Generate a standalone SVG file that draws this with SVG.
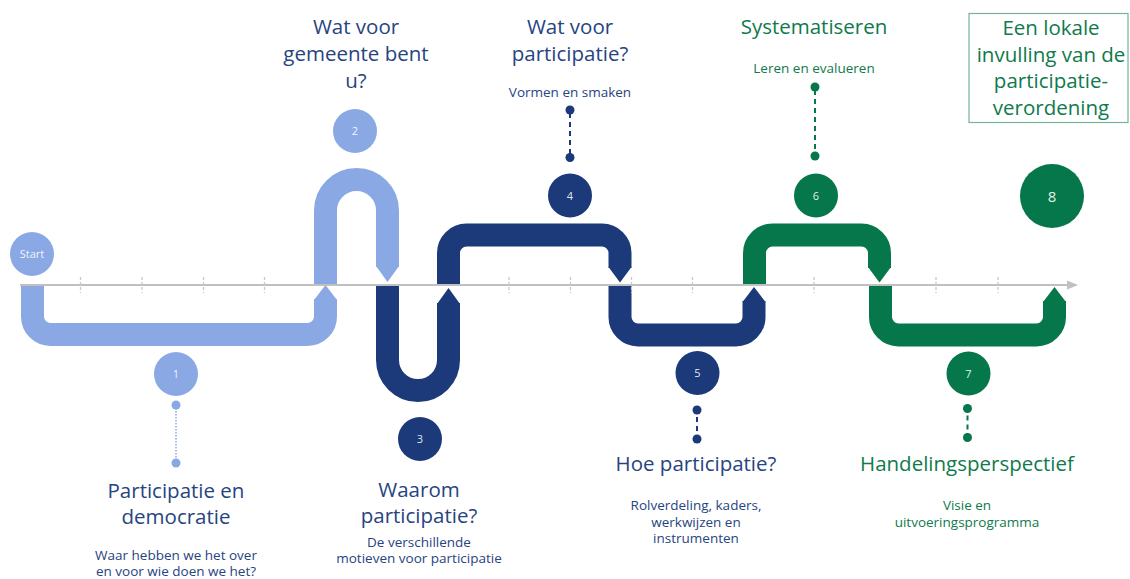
<svg xmlns="http://www.w3.org/2000/svg" width="1130" height="579" viewBox="0 0 1130 579">
<style>
.band{fill:none;stroke-width:23;stroke-linecap:butt;stroke-linejoin:round}
.lb{stroke:#8aa8e4}.db{stroke:#1c3979}.gr{stroke:#05774a}
.flb{fill:#8aa8e4}.fdb{fill:#1c3979}.fgr{fill:#05774a}
.tick{stroke:#c8c8c8;stroke-width:1.3;stroke-dasharray:3 2}
.h{font-family:"Open Sans","Noto Sans",sans-serif;font-size:20.5px;text-anchor:middle}
.s{font-family:"Open Sans","Noto Sans",sans-serif;font-size:13.5px;text-anchor:middle}
.tb{fill:#27447f}.tg{fill:#0f7a4b}
.num{font-family:"Open Sans","Noto Sans",sans-serif;font-size:11px;fill:#ffffff;fill-opacity:0.9;text-anchor:middle}
.dash{stroke-width:2;stroke-dasharray:5 4;fill:none}
</style>

<g id="connectors">
  <!-- segment 1 -->
  <path class="band lb" d="M32.5,285 V316.5 A18,18 0 0 0 50.5,334.5 H307.5 A18,18 0 0 0 325.5,316.5 V299"/>
  <polygon class="flb" points="314,300 325.5,285 337,300"/>
  <!-- segment 2 -->
  <path class="band lb" d="M325.5,285 V210.5 A31,31 0 0 1 387.5,210.5 V267"/>
  <polygon class="flb" points="376,266 387.5,282 399,266"/>
  <!-- segment 3 -->
  <path class="band db" d="M387.5,285 V360 A30.5,30.5 0 0 0 448.5,360 V303"/>
  <polygon class="fdb" points="437,304 448.5,288 460,304"/>
  <!-- segment 4 -->
  <path class="band db" d="M448.5,285 V253 A18,18 0 0 1 466.5,235 H602 A18,18 0 0 1 620,253 V268"/>
  <polygon class="fdb" points="608.5,267 620,282.5 631.5,267"/>
  <!-- segment 5 -->
  <path class="band db" d="M620,285 V317 A18,18 0 0 0 638,335 H736 A18,18 0 0 0 754,317 V301"/>
  <polygon class="fdb" points="742.5,302 754,287 765.5,302"/>
  <!-- segment 6 -->
  <path class="band gr" d="M754.5,285 V253 A18,18 0 0 1 772.5,235 H861.5 A18,18 0 0 1 879.5,253 V268"/>
  <polygon class="fgr" points="868,267 879.5,282.5 891,267"/>
  <!-- segment 7 -->
  <path class="band gr" d="M880.5,285 V317 A18,18 0 0 0 898.5,335 H1036.5 A18,18 0 0 0 1054.5,317 V301"/>
  <polygon class="fgr" points="1043,302 1054.5,287 1066,302"/>

  <!-- timeline axis -->
  <line x1="20" y1="285" x2="1068" y2="285" stroke="#c0c0c0" stroke-width="2"/>
  <polygon points="1067,280.5 1078,285 1067,289.5" fill="#c0c0c0"/>
  <g>
    <line class="tick" x1="80.5" y1="277" x2="80.5" y2="293"/>
    <line class="tick" x1="142" y1="277" x2="142" y2="293"/>
    <line class="tick" x1="203.5" y1="277" x2="203.5" y2="293"/>
    <line class="tick" x1="264.5" y1="277" x2="264.5" y2="293"/>
    <line class="tick" x1="509" y1="277" x2="509" y2="293"/>
    <line class="tick" x1="570.5" y1="277" x2="570.5" y2="293"/>
    <line class="tick" x1="631.5" y1="277" x2="631.5" y2="293"/>
    <line class="tick" x1="692.5" y1="277" x2="692.5" y2="293"/>
    <line class="tick" x1="814" y1="277" x2="814" y2="293"/>
    <line class="tick" x1="936" y1="277" x2="936" y2="293"/>
    <line class="tick" x1="998" y1="277" x2="998" y2="293"/>
  </g>

  <!-- pin connectors -->
  <line x1="176" y1="405" x2="176" y2="463" stroke="#8aa8e4" stroke-width="1.5" stroke-dasharray="1.5 1.5"/>
  <circle cx="176" cy="405" r="4.5" class="flb"/>
  <circle cx="176" cy="463" r="4.5" class="flb"/>

  <line class="dash" x1="570" y1="110" x2="570" y2="157" stroke="#1c3979" stroke-dashoffset="-3"/>
  <circle cx="570" cy="110" r="4.5" class="fdb"/>
  <circle cx="570" cy="157.5" r="4.5" class="fdb"/>

  <line class="dash" x1="697" y1="410" x2="697" y2="439" stroke="#1c3979" stroke-dasharray="5 4" stroke-dashoffset="-7"/>
  <circle cx="697" cy="410" r="4.5" class="fdb"/>
  <circle cx="697" cy="439" r="4.5" class="fdb"/>

  <line class="dash" x1="815" y1="87" x2="815" y2="156" stroke="#05774a" stroke-dashoffset="-3"/>
  <circle cx="815" cy="87" r="4.5" class="fgr"/>
  <circle cx="815" cy="156" r="4.5" class="fgr"/>

  <line class="dash" x1="967.5" y1="408.5" x2="967.5" y2="437.5" stroke="#05774a" stroke-dasharray="5 4" stroke-dashoffset="-7"/>
  <circle cx="967.5" cy="408.5" r="4.5" class="fgr"/>
  <circle cx="967.5" cy="437.5" r="4.5" class="fgr"/>
</g>

<g id="start">
  <circle cx="32" cy="254" r="22" class="flb"/>
  <text x="32" y="258" class="num">Start</text>
</g>

<g id="step1">
  <circle cx="176" cy="374" r="22" class="flb"/>
  <text x="176" y="378" class="num">1</text>
  <text class="h tb"><tspan x="176" y="498">Participatie en</tspan><tspan x="176" y="524">democratie</tspan></text>
  <text class="s tb"><tspan x="176" y="560">Waar hebben we het over</tspan><tspan x="176" y="576">en voor wie doen we het?</tspan></text>
</g>

<g id="step2">
  <circle cx="355" cy="131" r="22" class="flb"/>
  <text x="355" y="135" class="num">2</text>
  <text class="h tb"><tspan x="356" y="34">Wat voor</tspan><tspan x="356" y="61">gemeente bent</tspan><tspan x="356" y="88">u?</tspan></text>
</g>

<g id="step3">
  <circle cx="420" cy="439" r="22" class="fdb"/>
  <text x="420" y="443" class="num">3</text>
  <text class="h tb"><tspan x="419" y="497">Waarom</tspan><tspan x="419" y="523">participatie?</tspan></text>
  <text class="s tb"><tspan x="419" y="547">De verschillende</tspan><tspan x="419" y="563">motieven voor participatie</tspan></text>
</g>

<g id="step4">
  <circle cx="570" cy="195.5" r="22" class="fdb"/>
  <text x="570" y="199.5" class="num">4</text>
  <text class="h tb"><tspan x="570" y="34">Wat voor</tspan><tspan x="570" y="61">participatie?</tspan></text>
  <text x="570" y="97" class="s tb">Vormen en smaken</text>
</g>

<g id="step5">
  <circle cx="697.5" cy="373" r="22" class="fdb"/>
  <text x="697.5" y="377" class="num">5</text>
  <text x="696" y="471" class="h tb">Hoe participatie?</text>
  <text class="s tb"><tspan x="696" y="510">Rolverdeling, kaders,</tspan><tspan x="696" y="527">werkwijzen en</tspan><tspan x="696" y="543">instrumenten</tspan></text>
</g>

<g id="step6">
  <circle cx="816" cy="195.5" r="22" class="fgr"/>
  <text x="816" y="199.5" class="num">6</text>
  <text x="814" y="34" class="h tg">Systematiseren</text>
  <text x="814" y="73" class="s tg">Leren en evalueren</text>
</g>

<g id="step7">
  <circle cx="968.5" cy="373.5" r="22" class="fgr"/>
  <text x="968.5" y="377.5" class="num">7</text>
  <text x="967" y="471" class="h tg">Handelingsperspectief</text>
  <text class="s tg"><tspan x="967" y="510">Visie en</tspan><tspan x="967" y="527">uitvoeringsprogramma</tspan></text>
</g>

<g id="step8">
  <circle cx="1052" cy="196" r="32" class="fgr"/>
  <text x="1052" y="201.5" class="num" style="font-size:15px">8</text>
  <rect x="969" y="13.5" width="159" height="109" fill="none" stroke="#72b39a" stroke-width="1.2"/>
  <text class="h tg"><tspan x="1051" y="35">Een lokale</tspan><tspan x="1051" y="61.5">invulling van de</tspan><tspan x="1051" y="88">participatie-</tspan><tspan x="1051" y="114.5">verordening</tspan></text>
</g>
</svg>
